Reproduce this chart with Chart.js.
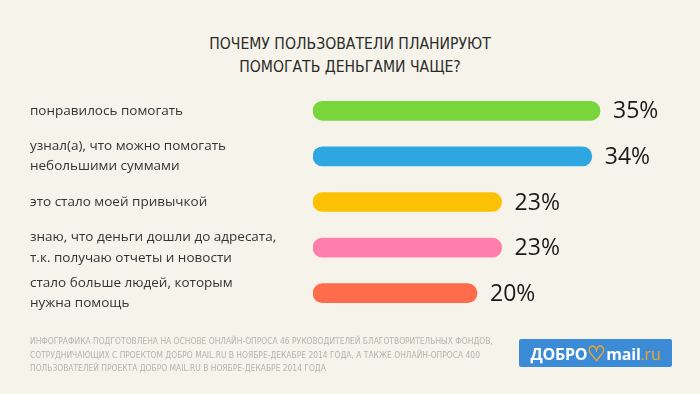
<!DOCTYPE html>
<html>
<head>
<meta charset="utf-8">
<script src="https://cdn.jsdelivr.net/npm/chart.js@4"></script>
<style>
    body { margin: 0; background: #f6f4ea; }
    .wrap { position: relative; width: 700px; height: 394px; overflow: hidden; background: #f6f4ea; }
    .title { position: absolute; left: 0; top: 33px; width: 700px; text-align: center;
        font-family: "DejaVu Sans Condensed", "DejaVu Sans"; font-stretch: condensed;
        font-size: 15.6px; line-height: 23px; color: #2b2b2b; }
    .note { position: absolute; left: 30px; top: 335px; width: 490px;
        font-family: "DejaVu Sans Condensed", "DejaVu Sans"; font-stretch: condensed;
        font-size: 8.4px; line-height: 13.5px; color: #b3b3ad; }
    .logo { position: absolute; left: 519px; top: 339px; width: 153px; height: 28px;
        background: #3b8bd6; border-radius: 2px; color: #fff;
        font-family: "Open Sans", sans-serif; font-weight: 700; font-size: 16px;
        line-height: 28px; text-align: center; letter-spacing: -0.2px; white-space: nowrap; }
    .logo .heart { color: #f6a623; font-size: 21px; font-weight: 700; vertical-align: -1px; }
    .logo .ru { color: #f6a623; font-weight: 400; }
    canvas { position: absolute; left: 0; top: 0; }
</style>
</head>
<body>
<div class="wrap">
    <div class="title">ПОЧЕМУ ПОЛЬЗОВАТЕЛИ ПЛАНИРУЮТ<br>ПОМОГАТЬ ДЕНЬГАМИ ЧАЩЕ?</div>
    <canvas id="chart" width="700" height="394"></canvas>
    <div class="note">ИНФОГРАФИКА ПОДГОТОВЛЕНА НА ОСНОВЕ ОНЛАЙН-ОПРОСА 46 РУКОВОДИТЕЛЕЙ БЛАГОТВОРИТЕЛЬНЫХ ФОНДОВ,<br>СОТРУДНИЧАЮЩИХ С ПРОЕКТОМ ДОБРО MAIL.RU В НОЯБРЕ-ДЕКАБРЕ 2014 ГОДА, А ТАКЖЕ ОНЛАЙН-ОПРОСА 400<br>ПОЛЬЗОВАТЕЛЕЙ ПРОЕКТА ДОБРО MAIL.RU В НОЯБРЕ-ДЕКАБРЕ 2014 ГОДА</div>
    <div class="logo">ДОБРО<span class="heart">♡</span>mail<span class="ru">.ru</span></div>
</div>
<script>
const reasons = [
    ['понравилось помогать'],
    ['узнал(а), что можно помогать', 'небольшими суммами'],
    ['это стало моей привычкой'],
    ['знаю, что деньги дошли до адресата,', 'т.к. получаю отчеты и новости'],
    ['стало больше людей, которым', 'нужна помощь']
];
const shares = [35, 34, 23, 23, 20];
const barColors = ['#78d63c', '#2ea6e2', '#fbc102', '#ff7eab', '#ff6c4c'];

// draws "35%" etc. right after each bar
const valueLabels = {
    id: 'valueLabels',
    afterDatasetsDraw(chart) {
        const ctx = chart.ctx;
        const meta = chart.getDatasetMeta(0);
        ctx.save();
        ctx.font = '500 23px "Open Sans", sans-serif';
        ctx.fillStyle = '#1a1a1a';
        ctx.textAlign = 'left';
        ctx.textBaseline = 'middle';
        meta.data.forEach((bar, i) => {
            ctx.fillText(shares[i] + '%', bar.x + 13, bar.y + 1);
        });
        ctx.restore();
    }
};

new Chart(document.getElementById('chart'), {
    type: 'bar',
    data: {
        labels: reasons,
        datasets: [{
            data: shares,
            backgroundColor: barColors,
            borderRadius: 10,
            borderSkipped: false,
            barThickness: 19
        }]
    },
    options: {
        indexAxis: 'y',
        responsive: false,
        animation: false,
        layout: { padding: { left: 30, top: 88, bottom: 78, right: 59 } },
        plugins: { legend: { display: false }, tooltip: { enabled: false } },
        scales: {
            x: { display: false, min: 0, max: 40 },
            y: {
                grid: { display: false },
                border: { display: false },
                ticks: {
                    crossAlign: 'far',
                    color: '#333',
                    font: { family: 'Open Sans', size: 13.5, lineHeight: 1.5 },
                    padding: 0
                },
                afterFit(scale) { scale.width = 283; }
            }
        }
    },
    plugins: [valueLabels]
});
</script>
</body>
</html>
